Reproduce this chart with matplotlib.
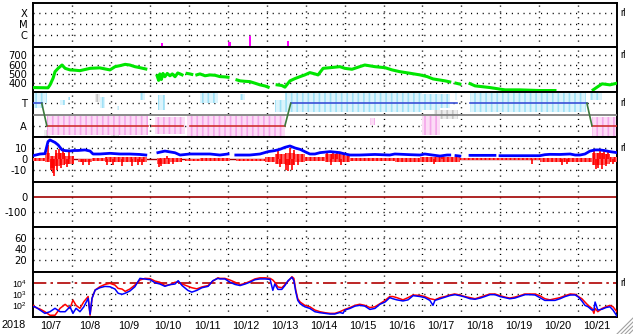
import matplotlib
matplotlib.use("Agg")
import matplotlib.pyplot as plt
from matplotlib.lines import Line2D
import numpy as np

plt.rcParams['font.family'] = ['Liberation Sans', 'DejaVu Sans']
plt.rcParams['mathtext.default'] = 'regular'
plt.rcParams['hatch.linewidth'] = 1.2

nan = np.nan
# time axis: days since 2018-10-07 00:00 UT
day_labels = ["10/7", "10/8", "10/9", "10/10", "10/11", "10/12", "10/13", "10/14",
              "10/15", "10/16", "10/17", "10/18", "10/19", "10/20", "10/21"]

# X-ray flares (peak flux, W/m2)
flare_t = [3.32, 5.05, 5.57, 6.55]
flare_flux = [1.9e-7, 2.4e-7, 7.5e-7, 3.0e-7]

# solar wind speed (km/s), nan = gap
sw_t = [0.0, 0.39, 0.44, 0.52, 0.57, 0.65, 0.75, 0.83, 0.955, 1.08, 1.21, 1.47, 1.72, 1.98,
        2.11, 2.24, 2.37, 2.49, 2.62, 2.75, 2.90, 3.0,
        3.19, 3.23, 3.26, 3.30, 3.34, 3.39, 3.45, 3.52, 3.58, 3.65, 3.72, 3.78, 3.83, 3.9,
        3.96, 4.03, 4.08, 4.15,
        4.21, 4.29, 4.42, 4.55, 4.68, 4.80, 4.93, 5.01, 5.1,
        5.24, 5.32, 5.45, 5.57, 5.70, 5.83, 5.96, 6.04, 6.15,
        6.27, 6.39, 6.47, 6.60, 6.73, 6.86, 6.98, 7.11, 7.24, 7.32, 7.45, 7.63, 7.88, 8.01,
        8.19, 8.39, 8.52, 8.78, 9.04, 9.22, 9.42, 9.68, 9.94, 10.12, 10.27, 10.58, 10.70, 10.78,
        10.86, 10.96, 11.1,
        11.22, 11.35, 11.73, 11.99, 12.12, 12.50, 13.01, 13.40, 13.9,
        14.38, 14.48, 14.61, 14.81, 14.99]
sw_v = [353, 350, 380, 453, 524, 560, 596, 560, 543, 540, 535, 560, 565, 543,
        578, 589, 603, 596, 578, 567, 553, nan,
        480, 430, 500, 440, 505, 470, 505, 480, 500, 470, 510, 500, 490, nan,
        505, 500, 495, nan,
        490, 500, 480, 489, 485, 471, 468, 464, nan,
        435, 425, 420, 417, 400, 382, 370, 357, nan,
        382, 375, 357, 425, 450, 471, 489, 514, 500, 489, 560, 567, 578, 560,
        550, 578, 596, 578, 567, 543, 524, 507, 489, 471, 446, 425, 414, nan,
        400, 390, nan,
        395, 371, 353, 336, 328, 328, 321, 321, nan,
        328, 357, 393, 382, 400]

# IMF sector (T = toward, A = away): (start, end, level)
sector_seg = [(0.0, 0.23, 0.5), (0.36, 2.96, -0.5), (3.07, 3.86, -0.5), (4.03, 6.47, -0.5),
              (6.62, 10.88, 0.5), (11.22, 14.22, 0.5), (14.35, 15.0, -0.5)]
sector_turn = [(0.23, 0.36, 0.5, -0.5), (6.47, 6.62, -0.5, 0.5), (14.22, 14.35, 0.5, -0.5)]
# phi angle point clouds: (start, end, low, high)
phi_toward = [(0.0, 0.30, 0.29, 0.95), (0.30, 0.36, 0.5, 0.95), (0.70, 0.83, 0.42, 0.64),
              (0.90, 0.96, 0.64, 0.78), (1.72, 1.85, 0.29, 0.8), (2.15, 2.2, 0.2, 0.4),
              (2.75, 2.88, 0.64, 0.95), (3.21, 3.39, 0.2, 0.87), (4.29, 4.75, 0.5, 0.95),
              (5.32, 5.45, 0.64, 0.9), (6.21, 6.47, 0.11, 0.64), (6.47, 10.0, 0.11, 0.95),
              (10.0, 10.45, 0.2, 0.9), (10.45, 10.7, 0.3, 0.9), (10.83, 10.88, 0.64, 1.0),
              (11.22, 14.2, 0.11, 0.95), (14.3, 14.6, 0.64, 0.95)]
phi_away = [(0.36, 2.96, -0.9, -0.07), (3.14, 3.90, -0.85, -0.1), (3.96, 6.47, -0.95, -0.05),
            (8.65, 8.78, -0.47, -0.16), (10.0, 10.45, -0.9, -0.07), (14.35, 15.0, -0.95, -0.1)]
phi_other = [(0.3, 0.45, -1.0, -0.7), (1.6, 1.72, 0.55, 0.9), (2.0, 2.2, -0.95, -0.4),
             (4.3, 4.8, -1.0, -0.5), (8.5, 9.5, 0.15, 0.3), (10.3, 10.9, -0.2, 0.2)]

# IMF Bt (nT)
bt_t = [0.0, 0.185, 0.313, 0.39, 0.44, 0.57, 0.65, 0.75, 0.83, 0.955, 1.05, 1.16, 1.34, 1.47,
        1.545, 1.72, 1.98, 2.24, 2.49, 2.75, 2.90, 3.0,
        3.21, 3.39, 3.65, 3.78, 4.03, 4.29, 4.55, 4.80, 5.01, 5.1,
        5.21, 5.57, 5.83, 6.04, 6.21, 6.34, 6.47, 6.60, 6.73, 6.86, 6.98, 7.11, 7.24, 7.37,
        7.63, 7.88, 8.01, 8.14, 8.39, 8.78, 9.16, 9.29, 9.68, 9.94, 10.06, 10.45, 10.63, 10.70,
        10.78, 10.86, 10.96, 11.1,
        11.22, 11.86, 11.93, 11.99, 13.01, 13.14, 13.27, 13.53, 13.79, 13.92, 14.04, 14.17,
        14.30, 14.43, 14.55, 14.68, 14.81, 14.99]
bt_v = [2.9, 4.4, 4.7, 15.3, 16.8, 14.6, 12.4, 8, 7.4, 7.1, 7.5, 7.5, 8, 7,
        4.4, 4.4, 5, 4.4, 4.4, 4, 3.5, nan,
        5.6, 7, 5.5, 3.5, 4.4, 4.4, 4.4, 3.5, 4.4, nan,
        3.5, 3.5, 4.4, 6.5, 7.4, 8.5, 10.3, 11.5, 9.7, 8.5, 6.5, 4.4, 4.4, 5.6,
        6.5, 5.6, 4.4, 3.5, 3.5, 4, 3.5, 4.4, 3.8, 3.5, 4.4, 2.6, 3.5, 3.5,
        nan, 3, 2.6, nan,
        3.2, 3.2, nan, 2.9, 2.9, 3.8, 4.1, 4, 4.4, 3.5, 3.5, 4.4,
        7, 8, 8, 7.4, 6.5, 5.6]

# IMF Bz (nT): typical range (start, end, high, low) and single spikes (time, value)
bz_band = [(0.0, 0.31, 0.5, -1.5), (0.31, 0.44, 5, -3), (0.44, 0.57, 3, -8), (0.57, 0.70, 5, -6),
           (0.70, 0.83, 5, -5), (0.83, 1.05, 3, -4), (1.16, 1.52, 0, -3), (1.52, 1.85, 1, -2),
           (1.85, 2.24, 1.5, -3), (2.24, 2.62, 2, -3), (2.62, 2.92, 2, -3), (3.19, 3.52, 1, -4),
           (3.52, 3.83, 1, -2.5), (3.90, 4.29, 0, -2), (4.29, 5.06, 0.5, -2), (5.21, 5.96, 0, -2),
           (5.96, 6.21, 2, -2.5), (6.21, 6.47, 4, -4), (6.47, 6.73, 5, -5), (6.73, 6.98, 4, -3),
           (6.98, 7.50, 2, -2), (7.50, 8.01, 4, -3), (8.01, 8.14, 3, -3), (8.14, 9.29, 1, -2),
           (9.29, 9.94, 1, -2.5), (9.94, 10.96, 1.5, -2.5), (10.96, 11.22, 0.5, -1),
           (11.22, 13.01, 0.5, -1), (13.01, 14.17, 1, -2.5), (14.17, 14.35, 1, -3),
           (14.35, 14.68, 5, -5), (14.68, 14.81, 4, -4), (14.81, 15.0, 2, -2.5)]
bz_spike_t = [0.39, 0.47, 0.52, 0.55, 0.60, 0.62, 0.68, 0.72, 0.78, 0.88, 0.92, 1.3, 1.45, 1.9,
              2.05, 2.3, 2.55, 2.7, 2.8, 3.25, 3.3, 3.45, 3.6, 6.3, 6.35, 6.5, 6.55, 6.6, 6.65,
              6.7, 6.8, 7.55, 7.65, 7.7, 7.8, 7.9, 10.3, 10.5, 12.8, 13.58, 13.7, 14.4, 14.45,
              14.5, 14.55, 14.6, 14.65, 14.7, 14.75, 14.9]
bz_spike_v = [12, -10, -12.5, -15, 8, -10, 9, -8, 8, -7, 7, -5, -5, -5,
              -5, -6, -6, -5, -5, -7, -6, 3, -4, 8, -7, -10, -11, 10, -10,
              8, -5, 7, -5.5, 7, 6, -5, -4, 3, -4, -5, -4, 8, -9,
              -8, 8, -9, 7.5, -6, 7, -4]

# >2 MeV electron flux (log10), two satellites
ef_t = [0.0, 0.06, 0.185, 0.31, 0.44, 0.57, 0.70, 0.83, 0.955, 1.03, 1.11, 1.21, 1.31, 1.42,
        1.47, 1.52, 1.60, 1.72, 1.85, 1.98, 2.11, 2.19, 2.29, 2.37, 2.49, 2.62, 2.75, 2.88,
        3.01, 3.14, 3.26, 3.39, 3.52, 3.65, 3.73, 3.83, 3.98, 4.08, 4.21, 4.34, 4.50, 4.62,
        4.75, 4.80, 4.93, 5.06, 5.19, 5.32, 5.45, 5.57, 5.70, 5.83, 5.96, 6.09, 6.16, 6.21,
        6.29, 6.39, 6.47, 6.55, 6.65, 6.70, 6.75, 6.80, 6.86, 6.98, 7.11, 7.24, 7.37, 7.50,
        7.63, 7.75, 7.88, 7.96, 8.01, 8.14, 8.27, 8.39, 8.52, 8.65, 8.78, 8.91, 9.04, 9.16,
        9.24, 9.34, 9.50, 9.63, 9.76, 9.94, 10.06, 10.19, 10.27, 10.32, 10.45, 10.58, 10.70,
        10.83, 10.96, 11.09, 11.22, 11.35, 11.48, 11.60, 11.73, 11.86, 11.99, 12.12, 12.24,
        12.37, 12.50, 12.63, 12.76, 12.89, 13.01, 13.14, 13.27, 13.40, 13.53, 13.66, 13.79,
        13.92, 14.00, 14.09, 14.17, 14.25, 14.35, 14.40, 14.43, 14.50, 14.61, 14.71, 14.81,
        14.89, 14.99]
ef_red = [2.03, 1.82, 1.66, 1.42, 1.1, 1.1, 1.73, 2.09, 1.73, 2.48, 2.0, 1.73, 2.33, 2.8,
          1.1, 2.64, 3.39, 3.69, 3.9, 4.0, 3.84, 3.54, 3.48, 3.27, 3.48, 3.84, 4.3, 4.45,
          4.42, 4.2, 4.1, 3.8, 3.88, 4.1, 4.1, 3.94, 3.73, 3.6, 3.5, 3.67, 3.8, 4.2,
          4.5, 4.45, 4.45, 4.3, 4.1, 3.88, 4.0, 4.18, 4.4, 4.5, 4.5, 4.45, 4.3, 4.1,
          3.67, 3.6, 3.88, 4.18, 4.6, 4.45, 3.36, 2.6, 2.3, 2.0, 1.87, 1.57, 1.42, 1.33,
          1.27, 1.27, 1.42, 1.55, 1.63, 1.8, 2.0, 2.1, 2.0, 1.8, 1.87, 2.15, 2.45, 2.8,
          2.8, 2.7, 2.5, 2.7, 2.94, 2.9, 2.8, 2.6, 2.55, 2.5, 2.7, 2.8, 2.94,
          3.03, 2.94, 2.8, 2.7, 2.6, 2.75, 2.88, 3.03, 3.03, 2.88, 2.75, 2.66,
          2.75, 2.88, 3.03, 3.03, 3.03, 2.88, 2.6, 2.5, 2.6, 2.7, 2.88, 3.03,
          3.0, 2.8, 2.6, 2.3, 2.0, 1.72, 1.27, 1.72, 1.42, 1.72, 1.87, 2.0,
          1.87, 1.42]
ef_blue = [1.87, 1.87, 1.57, 1.27, 1.42, 1.73, 1.42, 1.42, 1.87, 1.27, 1.73, 1.42, 1.87, 2.64,
           1.2, 2.64, 3.39, 3.6, 3.72, 3.69, 3.48, 3.1, 3.0, 3.1, 3.3, 3.69, 4.45, 4.39,
           4.33, 4.05, 3.94, 3.73, 3.88, 3.94, 4.24, 3.8, 3.36, 3.2, 3.36, 3.6, 3.73, 4.24,
           4.45, 4.4, 4.4, 4.1, 3.9, 3.8, 3.94, 4.1, 4.33, 4.4, 4.4, 4.36, 3.36, 3.94,
           3.45, 3.45, 3.8, 4.24, 4.55, 4.24, 3.2, 2.45, 2.15, 1.87, 1.72, 1.42, 1.33, 1.27,
           1.21, 1.21, 1.35, 1.27, 1.57, 1.72, 1.93, 2.0, 1.93, 1.63, 1.72, 2.1, 2.3, 2.7,
           2.6, 2.5, 2.4, 2.5, 2.88, 2.8, 2.7, 2.45, 2.0, 2.45, 2.6, 2.76, 2.88,
           2.97, 2.88, 2.76, 2.6, 2.55, 2.66, 2.8, 2.97, 2.97, 2.8, 2.7, 2.6,
           2.66, 2.82, 2.97, 2.97, 2.94, 2.7, 2.45, 2.45, 2.45, 2.6, 2.8, 2.94,
           2.94, 2.76, 2.4, 2.0, 1.87, 1.57, 1.6, 2.3, 1.57, 1.65, 1.8, 1.87,
           1.57, 1.03]

W, H = 633, 334
LEFT, RIGHT = 32.8, 617.3
edges = [2.7, 47, 92, 137, 182, 227, 272, 317]
dot = (0, (0.8, 3.4))
tick_font = dict(family='DejaVu Sans', size=7.2)

fig = plt.figure(figsize=(W / 100, H / 100), dpi=100)
axes = []
for top, bot in zip(edges[:-1], edges[1:]):
    ax = fig.add_axes([LEFT / W, 1 - bot / H, (RIGHT - LEFT) / W, (bot - top) / H])
    ax.set_xlim(0, 15)
    ax.set_xticks([])
    for s in ax.spines.values():
        s.set_linewidth(1.4)
    ax.tick_params(axis='y', length=0, pad=4)
    for d in range(1, 15):
        ax.axvline(d, color='black', lw=1.0, ls=dot, zorder=1)
    axes.append(ax)
ax1, ax2, ax3, ax4, ax5, ax6, ax7 = axes


def hgrid(ax, levels):
    for v in levels:
        ax.axhline(v, color='black', lw=1.0, ls=dot, zorder=1)


def yticks(ax, levels, labels):
    ax.set_yticks(levels)
    ax.set_yticklabels(labels, fontdict=tick_font)


def rl(ax, v):
    ax.text(1.006, v, "rl", transform=ax.get_yaxis_transform(), fontsize=7,
            va='center', ha='left')


# panel 1: X-ray class
ax1.set_yscale('log')
ax1.set_ylim(10 ** -7.1, 10 ** -3.05)
ax1.minorticks_off()
yticks(ax1, [1e-4, 1e-5, 1e-6], ["X", "M", "C"])
hgrid(ax1, [1e-4, 1e-5, 1e-6])
base = 10 ** -7.1
ax1.bar(flare_t, np.array(flare_flux) - base, bottom=base, width=0.06,
        color='#ff00ff', zorder=3)
rl(ax1, 1e-4)

# panel 2: solar wind speed
ax2.set_ylim(305, 790)
yticks(ax2, [400, 500, 600, 700], ["400", "500", "600", "700"])
hgrid(ax2, [400, 500, 600, 700])
ax2.plot(sw_t, sw_v, color='#00e600', lw=2.2, zorder=3)
rl(ax2, 700)

# panel 3: IMF sector (speckled phi clouds)
ax3.set_ylim(-1, 1)
yticks(ax3, [0.5, -0.5], ["T", "A"])
hgrid(ax3, [0.5, -0.5])
for seg, light, dark in [(phi_other, '#ececec', '#c4c4c4'),
                         (phi_toward, '#dcf4fc', '#9ee0f6'),
                         (phi_away, '#fcdcf6', '#f4a6ea')]:
    for s, e, lo, hi in seg:
        ax3.fill_between([s, e], [lo, lo], [hi, hi], facecolor=light, edgecolor=dark,
                         hatch='|||', lw=0, zorder=2)
ax3.axhline(0, color='#808080', lw=1.3, zorder=3)
for s, e, lev in sector_seg:
    ax3.plot([s, e], [lev, lev], color='#3b4fd6' if lev > 0 else '#d03030', lw=1.2, zorder=4)
for s, e, a, b in sector_turn:
    ax3.plot([s, e], [a, b], color='#3c7a3c', lw=1.2, zorder=4)
rl(ax3, 0.5)

# panel 4: IMF Bt / Bz
ax4.set_ylim(-20.3, 19.4)
yticks(ax4, [10, 0, -10], ["10", "0", "-10"])
hgrid(ax4, [10, -10])
ax4.axhline(0, color='#a00000', lw=1.0, zorder=2)
for s, e, hi, lo in bz_band:
    ax4.fill_between([s, e], [lo, lo], [hi, hi], facecolor='#ff6060', edgecolor='#ff0000',
                     hatch='||||', lw=0, zorder=3)
ax4.vlines(bz_spike_t, 0, bz_spike_v, color='#ff0000', lw=1.2, zorder=3)
ax4.plot(bt_t, bt_v, color='#0000ff', lw=2.0, zorder=4)
rl(ax4, 10)

# panel 5: Dst
ax5.set_ylim(-202, 104)
yticks(ax5, [0, -100], ["0", "-100"])
hgrid(ax5, [-100])
ax5.axhline(0, color='#a00000', lw=1.2, zorder=2)

# panel 6: Kp
ax6.set_ylim(-2, 81)
yticks(ax6, [20, 40, 60], ["20", "40", "60"])
hgrid(ax6, [20, 40, 60])

# panel 7: electron flux
ax7.set_yscale('log')
ax7.set_ylim(10 ** 0.94, 10 ** 5.03)
ax7.minorticks_off()
ax7.set_yticks([1e2, 1e3, 1e4])
ax7.set_yticklabels(["$10^{2}$", "$10^{3}$", "$10^{4}$"], fontsize=6.3)
hgrid(ax7, [1e2, 1e3])
ax7.axhline(1e4, color='#b00000', lw=1.2, ls=(0, (8, 2.5, 1.5, 2.5)), zorder=2)
ef_t_arr = np.array(ef_t)
ax7.plot(ef_t_arr, 10 ** np.array(ef_red), color='#ff0000', lw=1.1, zorder=3)
ax7.plot(ef_t_arr, 10 ** np.array(ef_blue), color='#0000ff', lw=1.1, zorder=4)
rl(ax7, 1e4)
ax7.set_xticks(np.arange(15) + 0.47, day_labels)
ax7.tick_params(axis='x', length=0, pad=3, labelsize=7.8)

fig.text(1 / W, 1 - 325 / H, "2018", fontsize=7.8, ha='left', va='center')

# size grip in the corner
for i in range(1, 5):
    fig.add_artist(Line2D([(W - 4 * i) / W, 1], [0, 4 * i / H], color='#a0a0a0', lw=0.8))

fig.savefig("out.png", dpi=100, facecolor='white')
